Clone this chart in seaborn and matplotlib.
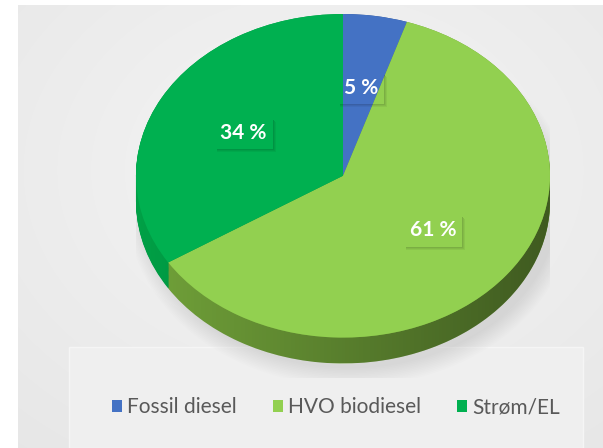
import numpy as np
import matplotlib
matplotlib.use("Agg")
import matplotlib.pyplot as plt
import matplotlib.patches as mpatches
from matplotlib.path import Path
from matplotlib.transforms import IdentityTransform
import seaborn as sns

# Chart data
categories = ["Fossil diesel", "HVO biodiesel", "Strøm/EL"]
shares = [5, 61, 34]
top_colors = ["#4472C4", "#92D050", "#00B050"]
side_colors = ["#2f528f", "#72a33a", "#00a046"]

W, H = 603, 448
DEPTH = 0.16

sns.set_theme(style="white")
plt.rcParams["font.family"] = ["Lato", "DejaVu Sans"]

fig = plt.figure(figsize=(W / 100, H / 100), dpi=100)
fig.patch.set_facecolor("white")

# Background panel with a soft radial gradient (pixel coordinates).
bg = fig.add_axes([0, 0, 1, 1])
bg.set_xlim(0, W)
bg.set_ylim(H, 0)
bg.axis("off")
yy, xx = np.mgrid[5:H, 18:W]
dist = np.hypot((xx - 320) / 430, (yy - 170) / 330)
shade = 0.96 - 0.05 * np.clip(dist, 0, 1.3)
bg.imshow(np.dstack([shade] * 3), extent=(18, W, H, 5), aspect="auto", zorder=0)
bg.add_patch(mpatches.Rectangle((69, 347), 514, 101, facecolor="#efefef",
                                edgecolor="#f5f5f5", linewidth=1, zorder=1))

# Pie axes: the top face is an ellipse filling x in [-1, 1], y in [-1, 1].
ax = fig.add_axes([136 / W, 1 - 378 / H, 414 / W, 364 / H])
ax.patch.set_alpha(0)

# soft shadow around the disc
for i in range(12):
    ax.add_patch(mpatches.Ellipse((0.035, -DEPTH - 0.03), 2.0 + 0.014 * i,
                                  2.0 + 0.02 * i, facecolor="#9a9a9a",
                                  edgecolor="none", alpha=0.025, zorder=0.5))

# extruded side: stacked copies of the pie in darker colours
for t in np.linspace(DEPTH, 0, 30):
    ax.pie(shares, colors=side_colors, startangle=90, counterclock=False,
           center=(0, -t), radius=1, wedgeprops=dict(linewidth=0, zorder=1))

# darkening gradient across the side band
th = np.linspace(np.pi, 2 * np.pi, 200)
upper = np.column_stack([np.cos(th), np.sin(th)])
lower = np.column_stack([np.cos(th[::-1]), np.sin(th[::-1]) - DEPTH])
band = Path(np.vstack([upper, lower, upper[:1]]), closed=True)
band_patch = mpatches.PathPatch(band, facecolor="none", edgecolor="none",
                                transform=ax.transData)
ax.add_patch(band_patch)
grad = np.zeros((2, 256, 4))
grad[..., 3] = np.linspace(0.0, 0.45, 256)
ax.imshow(grad, extent=(-1, 1, -1 - DEPTH, 0), aspect="auto",
          clip_path=band_patch, zorder=2)

# top face with percentage labels
wedges, _, autotexts = ax.pie(
    shares, colors=top_colors, startangle=90, counterclock=False,
    autopct=lambda p: f"{p:.0f} %", pctdistance=0.55,
    wedgeprops=dict(linewidth=0, zorder=3),
    textprops=dict(color="white", fontsize=15, fontweight="bold", zorder=5),
)
for t in autotexts:
    t.set_bbox(dict(boxstyle="square,pad=0.3", facecolor="none",
                    edgecolor="none"))

ax.set_aspect("auto")
ax.set_xlim(-1, 1)
ax.set_ylim(-1.25, 1)
ax.axis("off")

fig.legend(wedges, categories, loc="center",
           bbox_to_anchor=(336 / W, 1 - 407 / H), ncol=3, frameon=False,
           handlelength=0.5, handleheight=0.5, handletextpad=0.25,
           columnspacing=1.7, fontsize=15, labelcolor="#595959")

# soft drop shadows on the data label boxes
fig.canvas.draw()
renderer = fig.canvas.get_renderer()
for t in autotexts:
    bb = t.get_bbox_patch().get_window_extent(renderer)
    for k, a in enumerate([0.16, 0.10, 0.05]):
        fig.add_artist(mpatches.Rectangle((bb.x1 + k, bb.y0 - 1 - k), 1,
                                          bb.height - 2, transform=IdentityTransform(),
                                          facecolor="black", alpha=a, linewidth=0))
        fig.add_artist(mpatches.Rectangle((bb.x0 + 3, bb.y0 - 1 - k), bb.width - 3 + k, 1,
                                          transform=IdentityTransform(),
                                          facecolor="black", alpha=a, linewidth=0))

fig.savefig("out.png", dpi=100)
